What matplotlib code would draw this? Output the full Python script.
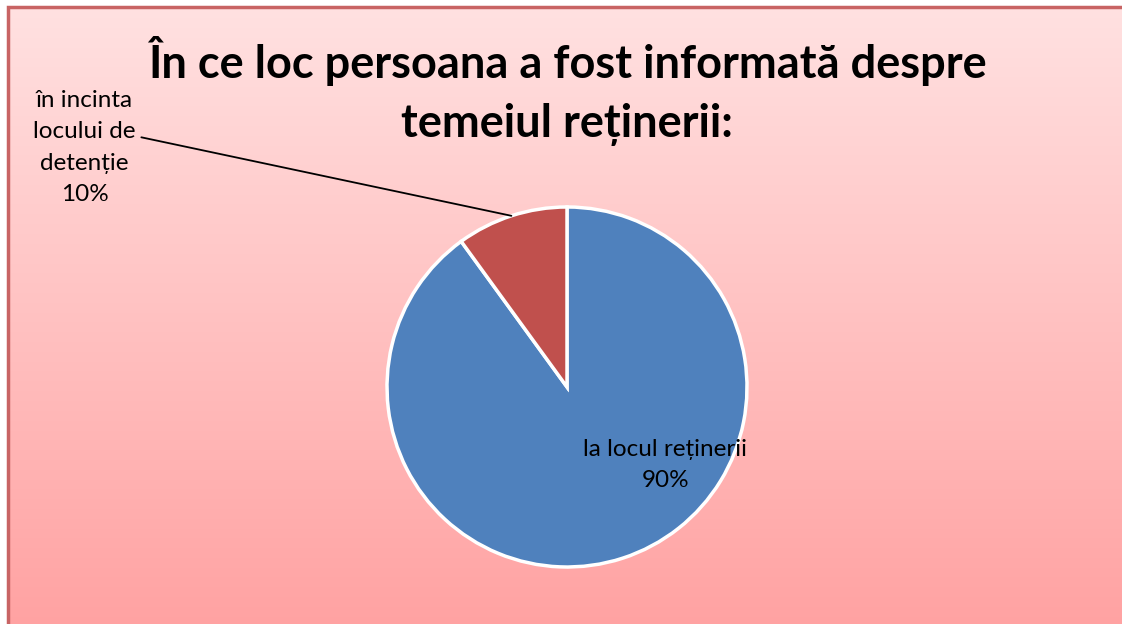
import numpy as np
import matplotlib.pyplot as plt
from matplotlib.colors import LinearSegmentedColormap
from matplotlib.patches import Rectangle

title = 'În ce loc persoana a fost informată despre\ntemeiul reținerii:'
labels = ['la locul reținerii', 'în incinta\nlocului de\ndetenție']
values = [90, 10]
colors = ['#4F81BD', '#C0504D']

plt.rcParams['font.family'] = ['Lato', 'DejaVu Sans']

fig = plt.figure(figsize=(11.22, 6.24), dpi=100)
fig.patch.set_facecolor('white')

# fundal cu gradient (marginea dreapta si de jos ies din imagine)
bg = fig.add_axes([8 / 1122, -4 / 624, 1.0, 1 - 3 / 624])
bg.set_axis_off()
cmap = LinearSegmentedColormap.from_list('bg', ['#FFE1E1', '#FFA2A2'])
grad = np.linspace(0, 1, 256).reshape(-1, 1)
bg.imshow(grad, aspect='auto', cmap=cmap, extent=[0, 1, 0, 1], origin='upper')
bg.add_patch(Rectangle((0, 0), 1, 1, transform=bg.transAxes, fill=False,
                       edgecolor='#C86464', linewidth=2.5, clip_on=False))

# placinta
cx, cy, r = 567, 387, 180
pad = 1.03
ax = fig.add_axes([(cx - r * pad) / 1122, (624 - cy - r * pad) / 624,
                   2 * r * pad / 1122, 2 * r * pad / 624])
ax.set_axis_off()
wedges, _ = ax.pie(values, colors=colors, startangle=90, counterclock=False,
                   wedgeprops=dict(edgecolor='white', linewidth=2.5))
ax.set_xlim(-pad, pad)
ax.set_ylim(-pad, pad)
ax.set_aspect('equal')

ax.text(0.545, -0.435, f'{labels[0]}\n{values[0]}%', ha='center', va='center',
        fontsize=17.5, linespacing=1.6, clip_on=False)

w = wedges[1]
ang = np.deg2rad((w.theta1 + w.theta2) / 2)
tip = (np.cos(ang), np.sin(ang))
ax.annotate(f'{labels[1]}\n{values[1]}%', xy=tip, xytext=(-2.68, 1.33),
            ha='center', va='center', fontsize=17.5, linespacing=1.6,
            annotation_clip=False,
            arrowprops=dict(arrowstyle='-', color='black', lw=1.3,
                            shrinkA=2, shrinkB=0,
                            relpos=(1.0, 0.6)))

fig.text(567 / 1122, 1 - 91 / 624, title, ha='center', va='center',
         fontsize=32.5, fontweight='bold', linespacing=1.5)

fig.savefig('out.png', dpi=100)
